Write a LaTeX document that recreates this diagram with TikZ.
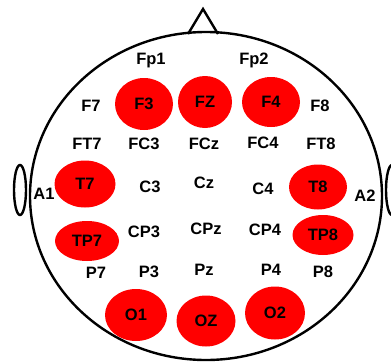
\documentclass[tikz,border=0pt]{standalone}
\usepackage{fontspec}
\setmainfont{Liberation Sans}
\usetikzlibrary{shapes.geometric}

\begin{document}
\begin{tikzpicture}[x=1pt, y=-1pt, line width=2.4pt,
        every node/.style={font=\fontsize{16.5}{16.5}\selectfont\bfseries, inner sep=0pt},
        active/.style={ellipse, fill=red, minimum width=60pt, minimum height=52pt}]
    \clip (0, 0) rectangle (391, 362);

    % Head, ears and nose
    \draw (206, 196) ellipse (176pt and 164pt);
    \draw (20, 190) ellipse (6pt and 25pt);
    \draw (392, 190) ellipse (6pt and 25pt);
    \draw (188, 34) -- (203, 9) -- (218, 34);

    % Frontal
    \node at (151, 61) (Fp1) {Fp1};
    \node at (254, 60) (Fp2) {Fp2};
    \node at (91, 106) (F7) {F7};
    \node[active, minimum width=58pt] at (144, 104) (F3) {F3};
    \node[active, minimum width=54pt] at (205, 102) (FZ) {FZ};
    \node[active, minimum width=58pt, minimum height=50pt] at (271, 102) (F4) {F4};
    \node at (320, 106) (F8) {F8};

    % Fronto-central
    \node at (87, 144) (FT7) {FT7};
    \node at (144, 144) (FC3) {FC3};
    \node at (204, 144) (FCz) {FCz};
    \node at (263, 143) (FC4) {FC4};
    \node at (321, 144) (FT8) {FT8};

    % Central
    \node at (44, 194) (A1) {A1};
    \node[active, minimum width=61pt, minimum height=47pt] at (85, 184) (T7) {T7};
    \node at (150, 187) (C3) {C3};
    \node at (204, 183) (Cz) {Cz};
    \node at (263, 189) (C4) {C4};
    \node[active, minimum width=58pt, minimum height=45pt] at (318, 187) (T8) {T8};
    \node at (365, 196) (A2) {A2};

    % Centro-parietal
    \node[active, minimum width=64pt, minimum height=40pt] at (87, 241) (TP7) {TP7};
    \node at (144, 232) (CP3) {CP3};
    \node at (206, 229) (CPz) {CPz};
    \node at (265, 230) (CP4) {CP4};
    \node[active, minimum width=61pt, minimum height=40pt] at (323, 235) (TP8) {TP8};

    % Parietal
    \node at (96, 273) (P7) {P7};
    \node at (149, 272) (P3) {P3};
    \node at (204, 270) (Pz) {Pz};
    \node at (271, 270) (P4) {P4};
    \node at (323, 272) (P8) {P8};

    % Occipital
    \node[active, minimum width=62pt] at (136, 315) (O1) {O1};
    \node[active, minimum width=59pt, minimum height=51pt] at (206, 321) (OZ) {OZ};
    \node[active, minimum height=53pt] at (275, 313) (O2) {O2};
\end{tikzpicture}
\end{document}
